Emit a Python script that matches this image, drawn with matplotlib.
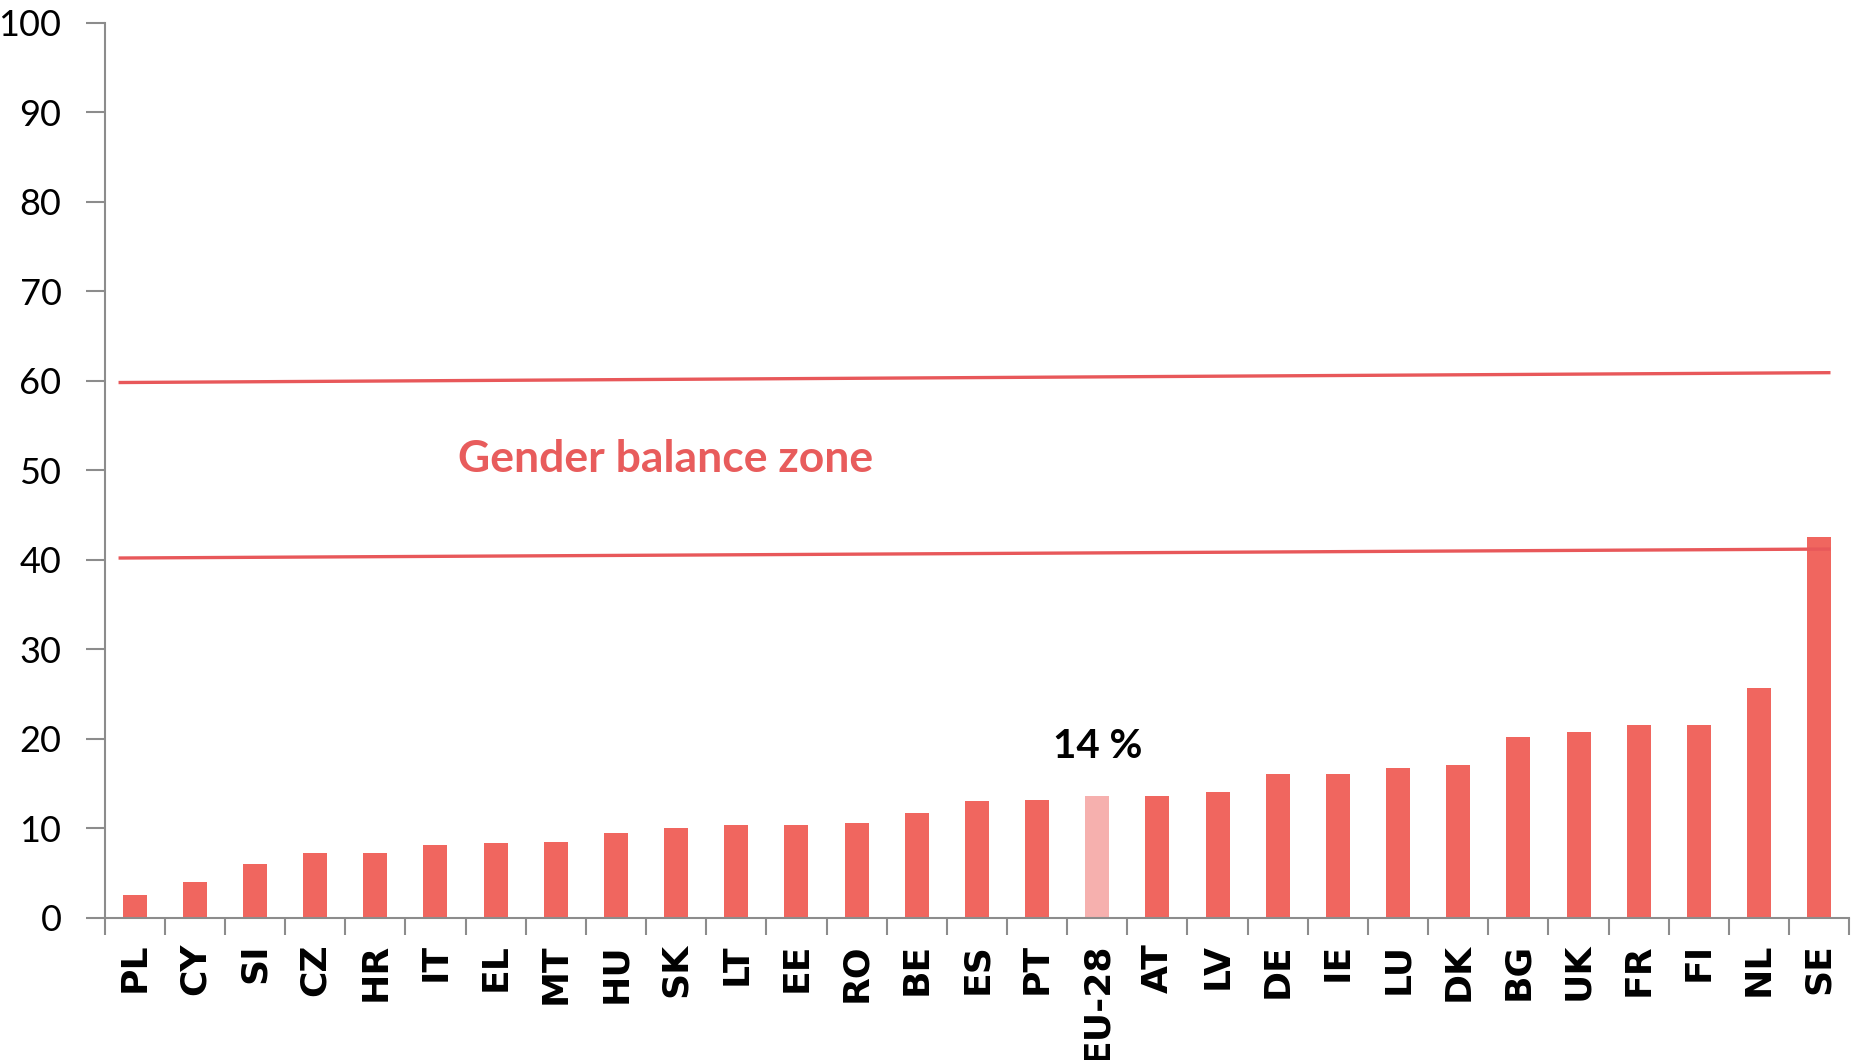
import matplotlib.pyplot as plt
import numpy as np

# share of women on boards (%), sorted
countries = ['PL', 'CY', 'SI', 'CZ', 'HR', 'IT', 'EL', 'MT', 'HU', 'SK', 'LT', 'EE', 'RO', 'BE',
             'ES', 'PT', 'EU-28', 'AT', 'LV', 'DE', 'IE', 'LU', 'DK', 'BG', 'UK', 'FR', 'FI', 'NL', 'SE']
values = [2.6, 4.0, 6.0, 7.2, 7.3, 8.2, 8.4, 8.5, 9.5, 10.1, 10.4, 10.4, 10.6, 11.7,
          13.1, 13.2, 13.6, 13.6, 14.1, 16.1, 16.1, 16.8, 17.1, 20.2, 20.8, 21.5, 21.6, 25.7, 42.6]
highlight = 'EU-28'
eu_label = '14 %'

# gender balance zone bounds (lines are slightly tilted in the original)
zone_x = [-0.24, 28.16]
zone_low = [40.2, 41.2]
zone_high = [59.8, 60.9]

red = '#F0665F'
light_red = '#F6B0AE'
line_red = '#E8585A'
axis_grey = '#8C8C8C'

fig = plt.figure(figsize=(18.64, 10.6), dpi=100)
ax = fig.add_axes([0.0561, 0.134, 0.936, 0.8447])

x = np.arange(len(countries))
colors = [light_red if c == highlight else red for c in countries]
ax.bar(x, values, width=0.4, color=colors, zorder=2)

ax.plot(zone_x, zone_low, color=line_red, lw=2.4, zorder=3)
ax.plot(zone_x, zone_high, color=line_red, lw=2.4, zorder=3)

ax.text(5.38, 51.3, 'Gender balance zone', color='#E85C5C', fontsize=32,
        fontweight='bold', family='Lato', va='center', ha='left')
ax.text(countries.index(highlight), 19.1, eu_label, color='black', fontsize=29,
        fontweight='bold', family='Lato', va='center', ha='center')

ax.set_xlim(-0.5, len(countries) - 0.5)
ax.set_ylim(0, 100)
ax.set_yticks(range(0, 101, 10))

ax.set_xticks(x)
ax.set_xticklabels(countries, rotation=90, fontsize=26, fontweight='bold',
                   family='DejaVu Sans', va='top')
ax.set_xticks(np.arange(-0.5, len(countries)), minor=True)
ax.tick_params(axis='x', which='major', length=0, pad=18)
ax.tick_params(axis='x', which='minor', length=12, width=1.5, color=axis_grey, direction='out')
ax.tick_params(axis='y', length=14, width=1.5, color=axis_grey, pad=17, labelsize=26)
for lab in ax.get_yticklabels():
    lab.set_family('Lato')

for side in ['top', 'right']:
    ax.spines[side].set_visible(False)
for side in ['left', 'bottom']:
    ax.spines[side].set_color(axis_grey)
    ax.spines[side].set_linewidth(1.5)

fig.savefig('out.png', dpi=100)
